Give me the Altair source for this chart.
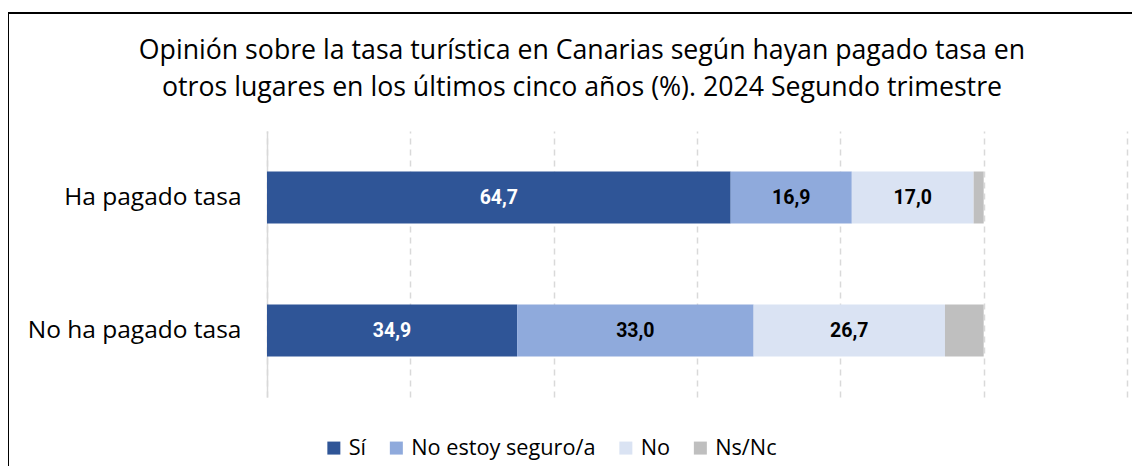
import altair as alt
import pandas as pd

grupos = ["Ha pagado tasa", "No ha pagado tasa"]
categorias = ["Sí", "No estoy seguro/a", "No", "Ns/Nc"]
colores = ["#2F5597", "#8FAADC", "#DAE3F3", "#BFBFBF"]
si = [64.7, 34.9]
no_seguro = [16.9, 33.0]
no = [17.0, 26.7]
nsnc = [1.4, 5.4]

series = [si, no_seguro, no, nsnc]
rows = []
for gi, g in enumerate(grupos):
    for ci, c in enumerate(categorias):
        v = series[ci][gi]
        rows.append({"grupo": g, "cat": c, "orden": ci, "valor": v,
                     "etiqueta": "" if c == "Ns/Nc" else f"{v:.1f}".replace(".", ",")})
df = pd.DataFrame(rows)

FONT = "Open Sans"

base = alt.Chart(df).transform_stack(
    stack="valor", groupby=["grupo"], sort=[alt.SortField("orden")], as_=["x0", "x1"]
).transform_calculate(mid="(datum.x0 + datum.x1) / 2")

y_enc = alt.Y("grupo:N", sort=grupos, title=None,
              scale=alt.Scale(paddingInner=0, paddingOuter=0),
              axis=alt.Axis(labelFont=FONT, labelFontSize=24.5, labelColor="#000000",
                            labelPadding=26, ticks=False, domainColor="#D9D9D9",
                            domainWidth=1.5, labelLimit=300))

bars = base.mark_bar(size=52).encode(
    x=alt.X("x0:Q", title=None,
            scale=alt.Scale(domain=[0, 120], nice=False),
            axis=alt.Axis(values=[0, 20, 40, 60, 80, 100, 120], labels=False, ticks=False,
                          domain=False, grid=True, gridColor="#D9D9D9",
                          gridDash=[6, 5], gridWidth=1.5)),
    x2="x1:Q",
    y=y_enc,
    color=alt.Color("cat:N", sort=categorias,
                    scale=alt.Scale(domain=categorias, range=colores),
                    legend=alt.Legend(title=None, orient="none", direction="horizontal",
                                      legendX=56, legendY=306, symbolType="square",
                                      symbolSize=169, symbolStrokeWidth=0,
                                      labelFont=FONT, labelFontSize=21.7, labelLimit=400,
                                      labelColor="#000000", columnPadding=18.5,
                                      labelOffset=4)),
)

labels = base.mark_text(font="Roboto", fontSize=19.5, fontWeight="bold").encode(
    x=alt.X("mid:Q"),
    y=alt.Y("grupo:N", sort=grupos),
    text="etiqueta:N",
    color=alt.condition(alt.datum.cat == "Sí", alt.value("#FFFFFF"), alt.value("#000000")),
)

border_df = pd.DataFrame({"b": [1]})
border = alt.Chart(border_df).mark_rect(fill=None, stroke="#000000", strokeWidth=2).encode(
    x=alt.value(-259), x2=alt.value(900), y=alt.value(-118), y2=alt.value(400)
)

chart = alt.layer(bars, labels, border).properties(
    width=860, height=266,
    title=alt.TitleParams(
        ["Opinión sobre la tasa turística en Canarias según hayan pagado tasa en",
         "otros lugares en los últimos cinco años (%). 2024 Segundo trimestre"],
        font=FONT, fontSize=26.7, fontWeight="normal", color="#000000",
        anchor="middle", dx=-115, lineHeight=37, offset=-90),
    autosize=alt.AutoSizeParams(type="none"),
    padding={"left": 259, "top": 123, "right": 5, "bottom": 69},
).configure_view(stroke=None)

chart.save("out.html", embed_options={"renderer": "svg", "actions": False})
